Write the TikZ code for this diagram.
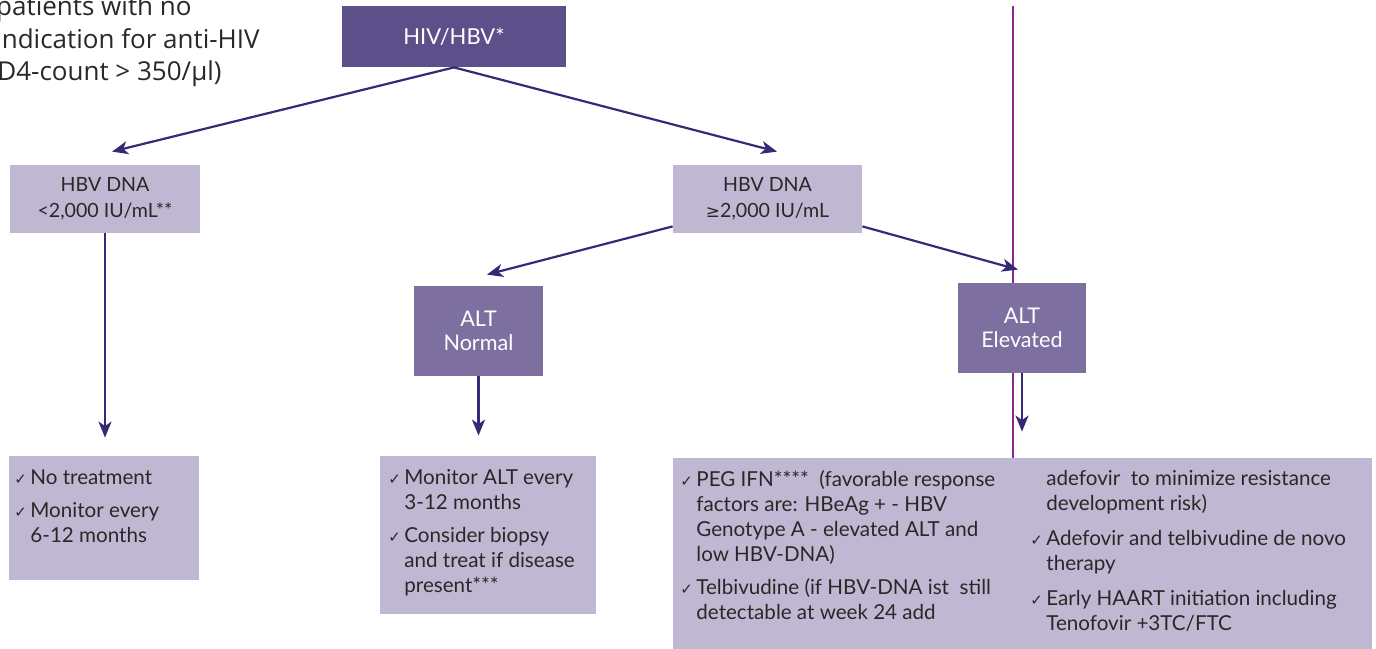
\documentclass[tikz,border=0pt]{standalone}
\usepackage{fontspec}
\setmainfont{Lato}
\newfontfamily\introfont{Open Sans}
\newfontfamily\symfont{DejaVu Sans}
\usetikzlibrary{arrows.meta,calc}

\definecolor{hivdark}{RGB}{92,79,138}
\definecolor{altmid}{RGB}{125,111,160}
\definecolor{lilac}{RGB}{192,184,210}
\definecolor{navy}{RGB}{52,42,120}
\definecolor{rulepink}{RGB}{142,38,142}
\definecolor{ink}{RGB}{40,40,40}

\newcommand{\tick}{\makebox[8pt][l]{\symfont\fontsize{7.5}{7.5}\selectfont ✓}}
\newcommand{\notick}{\hspace*{8pt}}

\tikzset{
  darkbox/.style={fill=hivdark, text=white, inner sep=0pt, font=\fontsize{11}{12}\selectfont},
  altbox/.style={fill=altmid, text=white, inner sep=0pt, align=center, font=\fontsize{10.8}{12}\selectfont},
  dnabox/.style={fill=lilac, text=ink, inner sep=0pt, align=center, font=\fontsize{9.8}{13}\selectfont},
  listbox/.style={fill=lilac, inner sep=0pt},
  listtext/.style={text=ink, inner sep=0pt, anchor=north west, align=left, font=\fontsize{10.3}{12.5}\selectfont},
  intro/.style={text=ink, inner sep=0pt, anchor=base east, font=\introfont\fontsize{13}{16.5}\selectfont},
  flow/.style={draw=navy, line width=1.1pt, -{Stealth[length=8pt,width=6.5pt,inset=2.2pt]}},
}

\begin{document}
\begin{tikzpicture}[x=0.5pt,y=-0.5pt]
  \useasboundingbox (0,0) rectangle (1376,648);

  % heading text, cut at the left edge
  \node[intro] (intro1) at (192,15) {patients with no};
  \node[intro] (intro2) at (260,48) {indication for anti-HIV};
  \node[intro] (intro3) at (222,80) {(CD4-count > 350/µl)};

  % divider line
  \draw[rulepink, line width=0.6pt] (1013,6) -- (1013,458);

  % boxes
  \node[darkbox, minimum width=112pt, minimum height=30.5pt] (hivhbv) at (454,36.5) {HIV/HBV*};
  \node[dnabox, minimum width=95pt, minimum height=34pt] (dnalow) at (105,199) {HBV DNA\\<2,000 IU/mL**};
  \node[dnabox, minimum width=94.5pt, minimum height=34pt] (dnahigh) at (767.5,199) {HBV DNA\\{\symfont\fontsize{8.5}{8.5}\selectfont ≥}2,000 IU/mL};
  \node[altbox, minimum width=64.5pt, minimum height=45pt] (altnorm) at (478.5,331) {ALT\\Normal};
  \node[altbox, minimum width=64pt, minimum height=45pt] (altelev) at (1022,328) {ALT\\Elevated};
  \node[listbox, minimum width=95pt, minimum height=62pt] (notreat) at (104,518) {};
  \node[listbox, minimum width=108pt, minimum height=79pt] (monitor) at (488,535) {};
  \node[listbox, minimum width=349.5pt, minimum height=96pt] (therapy) at (1022.5,554) {};

  % list texts
  \node[listtext] (notreattx) at (14,469) {\tick No treatment\\[4pt]
    \tick Monitor every\\ \notick 6-12 months};
  \node[listtext] (monitortx) at (388,469) {\tick Monitor ALT every\\ \notick 3-12 months\\[4pt]
    \tick Consider biopsy\\ \notick and treat if disease\\ \notick present***};
  \node[listtext] (therapya) at (680,470) {\tick PEG IFN****\ \ (favorable response\\
    \notick factors are: HBeAg + - HBV\\ \notick Genotype A - elevated ALT and\\
    \notick low HBV-DNA)\\[4pt]
    \tick Telbivudine (if HBV-DNA ist\ \ still\\ \notick detectable at week 24 add};
  \node[listtext] (therapyb) at (1030,470) {\notick adefovir\ \ to minimize resistance\\
    \notick development risk)\\[5pt]
    \tick Adefovir and telbivudine de novo\\ \notick therapy\\[5pt]
    \tick Early HAART initiation including\\ \notick Tenofovir +3TC/FTC};

  % arrows
  \draw[flow] (hivhbv.south) -- ($(dnalow.north)+(7,-13)$);
  \draw[flow] (hivhbv.south) -- ($(dnahigh.north)+(9.5,-13)$);
  \draw[flow] (dnalow.south) -- ($(dnalow.south |- notreat.north)+(0,-18)$);
  \draw[flow] ($(dnahigh.south west)+(0,-7)$) -- ($(altnorm.north)+(8.5,-11)$);
  \draw[flow] ($(dnahigh.south east)+(0,-7)$) -- ($(altelev.north)+(-4,-13)$);
  \draw[flow] (altnorm.south) -- ($(altnorm.south |- monitor.north)+(0,-20)$);
  \draw[flow] (altelev.south) -- ($(altelev.south |- therapy.north)+(0,-26)$);
\end{tikzpicture}
\end{document}
